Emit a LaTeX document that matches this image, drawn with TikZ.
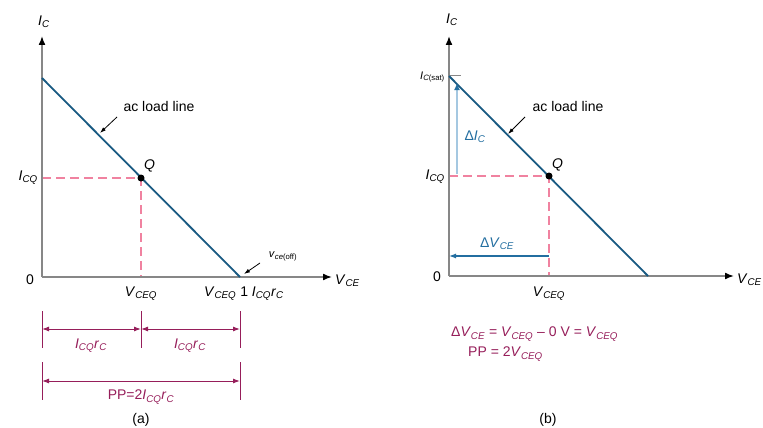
\documentclass[tikz,border=0pt]{standalone}
\usepackage{fontspec}
\setmainfont{Liberation Sans}
\usetikzlibrary{positioning,arrows.meta}
\usepackage{xcolor}
\definecolor{LineTeal}{RGB}{25,90,130}
\definecolor{DashPink}{RGB}{240,130,160}
\definecolor{DimMagenta}{RGB}{150,30,90}
\definecolor{AxisGray}{RGB}{135,135,135}
\definecolor{DeltaBlue}{RGB}{35,110,160}
\definecolor{DeltaLight}{RGB}{165,200,225}
\newcommand{\symb}[2]{\textit{#1}\textsubscript{\textit{#2}}}
\newcommand{\icqrc}{\symb{I}{CQ}\symb{r}{C}}

\begin{document}
\begin{tikzpicture}[x=1pt,y=-1pt,
axis/.style={draw=AxisGray,line width=1.6pt,-{Latex[length=9pt,width=7pt,color=black]}},
loadline/.style={draw=LineTeal,line width=1.8pt},
qdash/.style={draw=DashPink,line width=1.4pt,dash pattern=on 9pt off 5pt},
dim/.style={draw=DimMagenta,line width=1pt},
dimarrow/.style={dim,{Latex[length=7pt,width=5pt]}-{Latex[length=7pt,width=5pt]}},
lbl/.style={font=\fontsize{14}{16}\selectfont,inner sep=1pt},
small/.style={font=\fontsize{11}{13}\selectfont,inner sep=1pt},
dimlbl/.style={lbl,text=DimMagenta},
qdot/.style={circle,fill=black,inner sep=0pt,minimum size=7pt},
pointer/.style={draw=black,line width=0.8pt,-{Latex[length=6pt,width=4pt]}}
]
\useasboundingbox (0,0) rectangle (763,428);

% (a) ac load line with Q in the middle
\coordinate (oa) at (42,277);
\coordinate (topa) at (42,36);
\coordinate (enda) at (332,277);
\coordinate (sata) at (42,78);
\coordinate (offa) at (240,277);
\coordinate (icqa) at (42,178);
\coordinate (veqa) at (141,277);
\draw[qdash] (icqa) -- (141,178) -- (veqa);
\draw[axis] (oa) -- (topa);
\draw[axis] (oa) -- (enda);
\draw[loadline] (sata) -- (offa);
\node[qdot] (qa) at (141,178) {};
\node[lbl,anchor=south west] (qlbla) at (143,173) {\textit{Q}};

\node[lbl] (ica) at (44,22) {\symb{I}{C}};
\node[lbl,anchor=east] (icqlbla) at (39,178) {\symb{I}{CQ}};
\node[lbl] (zeroa) at (30,280) {0};
\node[lbl,anchor=west] (vcea) at (334,281) {\symb{V}{CE}};
\node[lbl] (vceqa) at (141,294) {\symb{V}{CEQ}};
\node[lbl] (vcoffa) at (244,294) {\symb{V}{CEQ} 1 \icqrc};

\node[lbl] (acla) at (159,106) {ac load line};
\draw[pointer] (117,117) -- (100,133);
\node[small] (vceoff) at (283,256) {\textit{v}\textsubscript{\textit{ce}(off)}};
\draw[pointer] (260,263) -- (244,274);

% dimension lines below (a)
\coordinate (t1a) at (42,311);  \coordinate (b1a) at (42,348);
\coordinate (t2a) at (141,311); \coordinate (b2a) at (141,348);
\coordinate (t3a) at (240,311); \coordinate (b3a) at (240,348);
\coordinate (t4a) at (42,362);  \coordinate (b4a) at (42,400);
\coordinate (t5a) at (240,362); \coordinate (b5a) at (240,400);
\draw[dim] (t1a) -- (b1a); \draw[dim] (t2a) -- (b2a); \draw[dim] (t3a) -- (b3a);
\draw[dim] (t4a) -- (b4a); \draw[dim] (t5a) -- (b5a);
\draw[dimarrow] (42,329) -- (141,329);
\draw[dimarrow] (141,329) -- (240,329);
\draw[dimarrow] (42,381) -- (240,381);
\node[dimlbl] (half1) at (91,346) {\icqrc};
\node[dimlbl] (half2) at (190,346) {\icqrc};
\node[dimlbl] (ppa) at (141,397) {PP=2\icqrc};
\node[lbl] (capa) at (141,420) {(a)};

% (b) Q at the middle, swing from saturation
\coordinate (ob) at (449,276);
\coordinate (topb) at (449,36);
\coordinate (endb) at (734,276);
\coordinate (satb) at (449,76);
\coordinate (offb) at (648,276);
\coordinate (icqb) at (449,176);
\coordinate (veqb) at (549,276);
\draw[qdash] (icqb) -- (549,176) -- (veqb);
\draw[axis] (ob) -- (topb);
\draw[axis] (ob) -- (endb);
\draw[draw=AxisGray,line width=1pt] (satb) -- (461,76);
\draw[loadline] (satb) -- (offb);
\node[qdot] (qb) at (549,176) {};
\node[lbl,anchor=south west] (qlblb) at (551,172) {\textit{Q}};

\node[lbl] (icb) at (452,20) {\symb{I}{C}};
\node[small,anchor=east] (icsat) at (446,77) {\textit{I}\textsubscript{\textit{C}(sat)}};
\node[lbl,anchor=east] (icqlblb) at (446,177) {\symb{I}{CQ}};
\node[lbl] (zerob) at (437,277) {0};
\node[lbl,anchor=west] (vceb) at (736,280) {\symb{V}{CE}};
\node[lbl] (vceqb) at (549,294) {\symb{V}{CEQ}};

\node[lbl] (aclb) at (568,106) {ac load line};
\draw[pointer] (525,117) -- (508,134);

\coordinate (dib) at (457,174);
\coordinate (dit) at (457,83);
\draw[draw=DeltaLight,line width=2.4pt,-{Latex[length=7pt,width=6pt,color=DeltaBlue]}] (dib) -- (dit);
\node[lbl,text=DeltaBlue] (dic) at (475,137) {Δ\symb{I}{C}};
\coordinate (dvr) at (549,256);
\coordinate (dvl) at (449,256);
\draw[draw=DeltaBlue,line width=1.2pt,-{Latex[length=7pt,width=5pt]}] (dvr) -- (dvl);
\node[lbl,text=DeltaBlue] (dvce) at (497,244) {Δ\symb{V}{CE}};

\node[dimlbl,anchor=west] (eq1) at (450,334) {Δ\symb{V}{CE} = \symb{V}{CEQ} – 0 V = \symb{V}{CEQ}};
\node[dimlbl,anchor=west] (eq2) at (467,354) {PP = 2\symb{V}{CEQ}};
\node[lbl] (capb) at (548,420) {(b)};
\end{tikzpicture}
\end{document}
